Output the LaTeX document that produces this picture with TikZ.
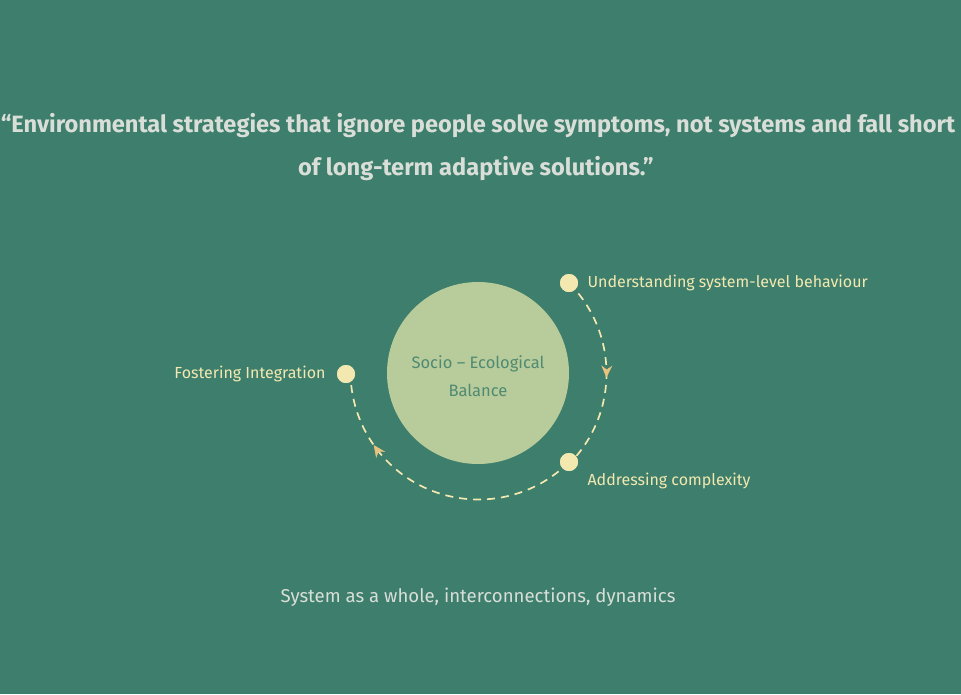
\documentclass[tikz,border=0pt]{standalone}
\usepackage{fontspec}
\setmainfont{Fira Sans}
\usepackage{xcolor}
\usetikzlibrary{positioning, arrows.meta, decorations.markings}

\definecolor{bg}{HTML}{3E7E6C}
\definecolor{sage}{HTML}{B8CB9A}
\definecolor{cream}{HTML}{F3E9B0}
\definecolor{tip}{HTML}{E9C27E}
\definecolor{pale}{HTML}{D9DFD8}
\definecolor{deep}{HTML}{4F8A72}

\begin{document}
\begin{tikzpicture}[x=1pt, y=-1pt,
        dot/.style={circle, fill=cream, inner sep=0pt, minimum size=18pt},
        lbl/.style={text=cream, font=\fontsize{16}{18}\selectfont},
        loopline/.style={draw=cream, line width=1.7pt, dash pattern=on 8pt off 6pt},
        midtip/.style={postaction={decorate, decoration={markings,
            mark=at position #1 with {\arrow[tip, line width=0.6pt]{Stealth[length=12pt, width=11pt, inset=4pt]}}}}}]
        \fill[bg] (0,0) rectangle (961,694);
        \useasboundingbox (0,0) rectangle (961,694);

        % quote
        \node[text=pale, font=\bfseries\fontsize{23.6}{26}\selectfont] (q1) at (478,126)
            {“Environmental strategies that ignore people solve symptoms, not systems and fall short};
        \node[text=pale, font=\bfseries\fontsize{23.6}{26}\selectfont] (q2) at (476,169)
            {of long-term adaptive solutions.”};

        % centre
        \node[circle, fill=sage, minimum size=182pt, inner sep=0pt,
              label={[align=center, text=deep, font=\fontsize{16.5}{28}\selectfont, yshift=-3pt]center:{Socio – Ecological\\Balance}}]
              (bal) at (478,373) {};

        \node[dot] (und) at (569,283) {};
        \node[dot] (adr) at (569,462) {};
        \node[dot] (fos) at (346,374) {};

        \node[lbl, anchor=west] (undl) at (584,283) {Understanding system-level behaviour};
        \node[lbl, anchor=west] (adrl) at (584,481) {Addressing complexity};
        \node[lbl, anchor=east] (fosl) at (329,374) {Fostering Integration};

        \draw[loopline, midtip=0.52] (und.center)
            arc[start angle=-45, end angle=45, radius=128];
        \draw[loopline, midtip=0.74] (adr.center)
            arc[start angle=45, end angle=180, radius=128];
        \node[dot] at (und) {};
        \node[dot] at (adr) {};
        \node[dot] at (fos) {};

        \node[text=pale, font=\fontsize{18.6}{20}\selectfont] (foot) at (478,597)
            {System as a whole, interconnections, dynamics};
\end{tikzpicture}
\end{document}
